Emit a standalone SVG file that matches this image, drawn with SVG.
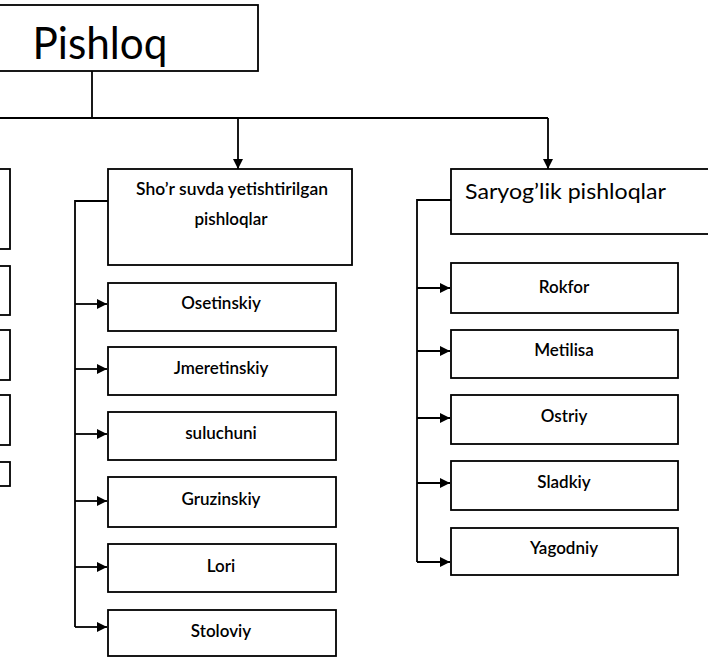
<svg xmlns="http://www.w3.org/2000/svg" width="708" height="658" viewBox="0 0 708 658">
  <style>
    .box { fill: #ffffff; stroke: #000000; stroke-width: 1.8; }
    .wire { fill: none; stroke: #000000; stroke-width: 1.8; }
    .lbl { font-family: Lato, "Open Sans", "Liberation Sans", sans-serif; font-weight: 600; fill: #000000; text-anchor: middle; }
    .item { font-size: 17px; }
    .head { font-weight: 400; }
  </style>
  <defs>
    <marker id="arrow" viewBox="0 0 10 10" refX="10" refY="5" markerWidth="10" markerHeight="10" markerUnits="userSpaceOnUse" orient="auto">
      <path d="M0,0 L10,5 L0,10 Z" fill="#000000"/>
    </marker>
  </defs>
  <rect width="708" height="658" fill="#ffffff"/>

  <!-- connectors -->
  <g id="connectors">
    <path class="wire" d="M92,71 V118"/>
    <path class="wire" d="M0,118 H548"/>
    <path class="wire" d="M238,118 V169" marker-end="url(#arrow)"/>
    <path class="wire" d="M548,118 V169" marker-end="url(#arrow)"/>
    <!-- middle branch -->
    <path class="wire" d="M108,201 H75 V627"/>
    <path class="wire" d="M75,304 H107" marker-end="url(#arrow)"/>
    <path class="wire" d="M75,369 H107" marker-end="url(#arrow)"/>
    <path class="wire" d="M75,434 H107" marker-end="url(#arrow)"/>
    <path class="wire" d="M75,501 H107" marker-end="url(#arrow)"/>
    <path class="wire" d="M75,567 H107" marker-end="url(#arrow)"/>
    <path class="wire" d="M75,627 H107" marker-end="url(#arrow)"/>
    <!-- right branch -->
    <path class="wire" d="M451,200 H417 V562"/>
    <path class="wire" d="M417,288 H450" marker-end="url(#arrow)"/>
    <path class="wire" d="M417,351 H450" marker-end="url(#arrow)"/>
    <path class="wire" d="M417,418 H450" marker-end="url(#arrow)"/>
    <path class="wire" d="M417,483 H450" marker-end="url(#arrow)"/>
    <path class="wire" d="M417,562 H450" marker-end="url(#arrow)"/>
  </g>

  <!-- root -->
  <g id="pishloq">
    <rect class="box" x="-10" y="5" width="268" height="66"/>
    <text class="lbl head" x="100" y="59" font-size="44" textLength="135" lengthAdjust="spacingAndGlyphs">Pishloq</text>
  </g>

  <!-- left column (partly outside the page) -->
  <g id="left-1"><rect class="box" x="-40" y="169" width="50" height="80"/></g>
  <g id="left-2"><rect class="box" x="-40" y="266" width="50" height="49"/></g>
  <g id="left-3"><rect class="box" x="-40" y="330" width="50" height="50"/></g>
  <g id="left-4"><rect class="box" x="-40" y="395" width="50" height="50"/></g>
  <g id="left-5"><rect class="box" x="-40" y="462" width="50" height="24"/></g>

  <!-- brine cheeses -->
  <g id="shor-suvda">
    <rect class="box" x="108" y="169" width="244" height="96"/>
    <text class="lbl" x="232" y="195" font-size="17" textLength="192" lengthAdjust="spacingAndGlyphs">Sho’r suvda yetishtirilgan</text>
    <text class="lbl" x="231" y="225" font-size="17">pishloqlar</text>
  </g>
  <g id="osetinskiy">
    <rect class="box" x="108" y="283" width="228" height="48"/>
    <text class="lbl item" x="221" y="309">Osetinskiy</text>
  </g>
  <g id="jmeretinskiy">
    <rect class="box" x="108" y="347" width="228" height="48"/>
    <text class="lbl item" x="221" y="374">Jmeretinskiy</text>
  </g>
  <g id="suluchuni">
    <rect class="box" x="108" y="412" width="228" height="48"/>
    <text class="lbl item" x="221" y="439">suluchuni</text>
  </g>
  <g id="gruzinskiy">
    <rect class="box" x="108" y="477" width="228" height="50"/>
    <text class="lbl item" x="221" y="505">Gruzinskiy</text>
  </g>
  <g id="lori">
    <rect class="box" x="108" y="544" width="228" height="48"/>
    <text class="lbl item" x="221" y="572">Lori</text>
  </g>
  <g id="stoloviy">
    <rect class="box" x="108" y="610" width="228" height="46"/>
    <text class="lbl item" x="221" y="637">Stoloviy</text>
  </g>

  <!-- butter cheeses -->
  <g id="saryoglik">
    <rect class="box" x="451" y="169" width="270" height="65"/>
    <text x="465" y="199" font-family="Lato, 'Open Sans', 'Liberation Sans', sans-serif" font-size="22" textLength="201" lengthAdjust="spacingAndGlyphs">Saryog’lik pishloqlar</text>
  </g>
  <g id="rokfor">
    <rect class="box" x="451" y="263" width="227" height="50"/>
    <text class="lbl item" x="564" y="293">Rokfor</text>
  </g>
  <g id="metilisa">
    <rect class="box" x="451" y="330" width="227" height="48"/>
    <text class="lbl item" x="564" y="356">Metilisa</text>
  </g>
  <g id="ostriy">
    <rect class="box" x="451" y="395" width="227" height="49"/>
    <text class="lbl item" x="564" y="422">Ostriy</text>
  </g>
  <g id="sladkiy">
    <rect class="box" x="451" y="461" width="227" height="49"/>
    <text class="lbl item" x="564" y="488">Sladkiy</text>
  </g>
  <g id="yagodniy">
    <rect class="box" x="451" y="528" width="227" height="47"/>
    <text class="lbl item" x="564" y="554">Yagodniy</text>
  </g>
</svg>
